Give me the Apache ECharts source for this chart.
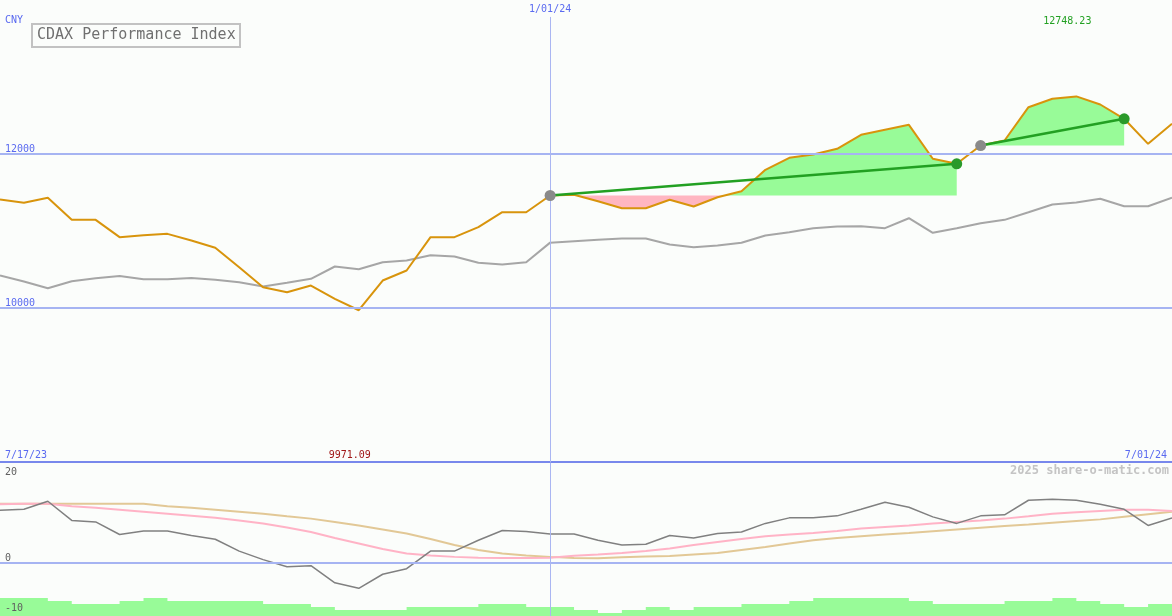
<!DOCTYPE html>
<html><head><meta charset="utf-8">
<script src="https://cdn.jsdelivr.net/npm/echarts@6/dist/echarts.min.js"></script>
<style>html,body{margin:0;padding:0;background:#fbfdfb}#c{width:1172px;height:616px}</style>
</head><body><div id="c"></div>
<script>
const dates = ['7/17/23','7/24/23','7/31/23','8/07/23','8/14/23','8/21/23','8/28/23','9/04/23','9/11/23','9/18/23',
  '9/25/23','10/02/23','10/09/23','10/16/23','10/23/23','10/30/23','11/06/23','11/13/23','11/20/23','11/27/23',
  '12/04/23','12/11/23','12/18/23','1/01/24','1/08/24','1/15/24','1/22/24','1/29/24','2/05/24','2/12/24',
  '2/19/24','2/26/24','3/04/24','3/11/24','3/18/24','3/25/24','4/01/24','4/08/24','4/15/24','4/22/24',
  '4/29/24','5/06/24','5/13/24','5/20/24','5/27/24','6/03/24','6/10/24','6/17/24','6/24/24','7/01/24'];
const cdax = [11409,11366,11431,11145,11145,10920,10945,10963,10877,10782,
  10530,10270,10205,10292,10119,9971.09,10357,10487,10920,10920,
  11050,11244,11244,11461,11470,11387,11296,11296,11405,11318,
  11439,11517,11795,11951,11994,12067,12249,12314,12379,11938,
  11873,12110,12175,12608,12717,12748.23,12643,12457,12132,12392];
const benchmark = [10422,10344,10257,10348,10387,10415,10372,10372,10390,10366,
  10335,10279,10327,10379,10539,10504,10595,10617,10686,10669,
  10587,10565,10595,10849,10868,10886,10903,10903,10825,10790,
  10812,10847,10942,10985,11037,11058,11062,11037,11166,10976,
  11037,11101,11145,11244,11344,11370,11418,11322,11322,11431];
const momentum = [10.5,10.7,12.3,8.5,8.2,5.7,6.4,6.4,5.5,4.75,
  2.4,0.7,-0.7,-0.5,-3.9,-5.0,-2.2,-1.1,2.4,2.4,
  4.55,6.5,6.3,5.8,5.8,4.55,3.6,3.76,5.5,5.0,
  5.9,6.2,7.9,9.0,9.0,9.4,10.7,12.1,11.1,9.2,
  7.9,9.4,9.6,12.5,12.7,12.5,11.7,10.7,7.5,9.0];
const avgFast = [11.7,11.8,11.8,11.3,11.0,10.6,10.2,9.8,9.4,9.0,
  8.5,7.9,7.1,6.2,5.0,3.9,2.8,1.9,1.5,1.25,
  1.1,1.05,1.05,1.1,1.45,1.7,2.0,2.4,2.9,3.6,
  4.2,4.8,5.35,5.7,6.0,6.4,6.9,7.2,7.5,7.9,
  8.2,8.5,8.85,9.3,9.8,10.1,10.35,10.6,10.6,10.35];
const avgSlow = [11.8,11.8,11.8,11.8,11.8,11.8,11.8,11.3,11.0,10.6,
  10.2,9.8,9.3,8.85,8.2,7.5,6.7,5.9,4.8,3.6,
  2.6,1.9,1.5,1.25,1.05,1.0,1.2,1.3,1.4,1.7,
  2.0,2.6,3.2,3.9,4.55,5.0,5.35,5.7,6.0,6.35,
  6.7,7.05,7.4,7.7,8.05,8.4,8.7,9.2,9.7,10.2];
const volumeLevels = [6,6,5,4,4,5,6,5,5,5,
  5,4,4,3,2,2,2,3,3,3,
  4,4,3,3,2,1,2,3,2,3,
  3,4,4,5,6,6,6,6,5,4,
  4,4,5,5,6,5,4,3,4];
const trendSegments = [[23,40],[41,47]];
const mainGridValues = [10000,12000];
const mainLabels = [10000,12000];
const lowerLabelsBelow = [0,-10];
const lowerLabelTop = 20;
const markerIndex = 23;

const MONO = 'DejaVu Sans Mono';
const BLUE_TXT = '#5a6af0';
const GRID_BLUE = '#a6b4f2';
const VLINE = '#aab6f2';

const pairs = arr => arr.map((v, i) => [i, v]);
const minVal = Math.min(...cdax), maxVal = Math.max(...cdax);
const minIdx = cdax.indexOf(minVal), maxIdx = cdax.indexOf(maxVal);

function fillParts(a, b) {
  const base = cdax[a];
  const pts = [];
  for (let i = a; i <= b; i++) {
    pts.push([i, cdax[i]]);
    if (i < b) {
      const d0 = cdax[i] - base, d1 = cdax[i + 1] - base;
      if (d0 * d1 < 0) { const t = d0 / (d0 - d1); pts.push([i + t, base]); }
    }
  }
  return {
    base,
    up: pts.map(p => [p[0], Math.max(p[1], base)]),
    down: pts.map(p => [p[0], Math.min(p[1], base)])
  };
}

const fillSeries = [];
trendSegments.forEach(([a, b]) => {
  const f = fillParts(a, b);
  fillSeries.push({
    type: 'line', xAxisIndex: 0, yAxisIndex: 0, data: f.up, symbol: 'none', z: 1,
    lineStyle: { width: 0 }, areaStyle: { color: '#98fb98', opacity: 1, origin: f.base }, silent: true
  });
  fillSeries.push({
    type: 'line', xAxisIndex: 0, yAxisIndex: 0, data: f.down, symbol: 'none', z: 1,
    lineStyle: { width: 0 }, areaStyle: { color: '#ffb6c1', opacity: 1, origin: f.base }, silent: true
  });
});

const trendSeries = trendSegments.map(([a, b]) => ({
  type: 'line', xAxisIndex: 0, yAxisIndex: 0, z: 5,
  data: [[a, cdax[a]], [b, cdax[b]]],
  symbol: 'circle', symbolSize: 11,
  lineStyle: { color: '#22a022', width: 2.5 },
  itemStyle: { color: p => p.dataIndex === 0 ? '#8a8a8a' : '#2a9a2a' }
}));

const volData = pairs(volumeLevels);
volData.push([volumeLevels.length, volumeLevels[volumeLevels.length - 1]]);

const hiddenX = gi => ({ type: 'value', gridIndex: gi, min: 0, max: dates.length - 1, show: false });
const labelAxisX = (pos, values, fmt, color, margin, pad) => ({
  type: 'value', gridIndex: 0, position: pos, offset: 0, min: 0, max: dates.length - 1,
  axisLine: { show: false }, axisTick: { show: false }, splitLine: { show: false },
  axisLabel: { inside: true, customValues: values, formatter: fmt, color: color, margin: margin,
    fontFamily: MONO, fontSize: 10, padding: pad || 0 }
});

const option = {
  backgroundColor: '#fbfdfb',
  animation: false,
  title: {
    text: 'CDAX Performance Index', left: 32, top: 24,
    borderColor: '#c2c2c2', borderWidth: 2, padding: [4, 5, 4, 5],
    textStyle: { color: '#707070', fontFamily: MONO, fontSize: 15, fontWeight: 'normal' }
  },
  graphic: [
    { type: 'text', left: 5, top: 15, style: { text: 'CNY', fill: BLUE_TXT, font: '10px ' + MONO } },
    { type: 'text', right: 3, top: 465, style: { text: '2025 share-o-matic.com', fill: '#c4c4c4', font: 'bold 12px ' + MONO } }
  ],
  grid: [
    { left: 0, right: 0, top: 0, height: 462 },
    { left: 0, right: 0, top: 462.5, height: 151 },
    { left: 0, right: 0, top: 466, height: 150 }
  ],
  xAxis: [
    {
      type: 'value', gridIndex: 0, position: 'bottom', offset: 0, min: 0, max: dates.length - 1,
      axisLine: { show: true, onZero: false, lineStyle: { color: '#7888ec', width: 2 } },
      axisTick: { show: false }, splitLine: { show: false },
      axisLabel: { inside: true, customValues: [0, dates.length - 1], formatter: v => dates[v],
        color: BLUE_TXT, margin: 2, fontFamily: MONO, fontSize: 10,
        alignMinLabel: 'left', alignMaxLabel: 'right', padding: [0, 5, 0, 5] }
    },
    labelAxisX('bottom', [minIdx], () => minVal.toFixed(2), '#a01818', 2, [0, 18, 0, 0]),
    labelAxisX('top', [markerIndex], v => dates[v], BLUE_TXT, 4),
    labelAxisX('top', [maxIdx], () => maxVal.toFixed(2), '#22a022', 16, [0, 18, 0, 0]),
    hiddenX(1),
    hiddenX(2)
  ],
  yAxis: [
    {
      type: 'value', gridIndex: 0, min: 8000, max: 14000, interval: 2000,
      axisLine: { show: false }, axisTick: { show: false }, splitLine: { show: false },
      axisLabel: { inside: true, margin: 5, verticalAlign: 'bottom', color: BLUE_TXT, fontFamily: MONO, fontSize: 10,
        formatter: v => mainLabels.includes(v) ? String(v) : '' }
    },
    {
      type: 'value', gridIndex: 1, min: -10, max: 20, interval: 10,
      axisLine: { show: false }, axisTick: { show: false }, splitLine: { show: false },
      axisLabel: { inside: true, margin: 5, verticalAlign: 'bottom', color: '#606060', fontFamily: MONO, fontSize: 10,
        formatter: v => lowerLabelsBelow.includes(v) ? String(v) : '' }
    },
    {
      type: 'value', gridIndex: 1, min: -10, max: 20, interval: 10, position: 'left', offset: 0,
      axisLine: { show: false }, axisTick: { show: false }, splitLine: { show: false },
      axisLabel: { inside: true, margin: 5, verticalAlign: 'top', color: '#606060', fontFamily: MONO, fontSize: 10,
        padding: [5, 0, 0, 0],
        formatter: v => v === lowerLabelTop ? String(v) : '' }
    },
    { type: 'value', gridIndex: 2, min: 0, max: 50, show: false }
  ],
  series: [
    {
      type: 'line', xAxisIndex: 5, yAxisIndex: 3, data: volData, step: 'end', symbol: 'none', z: 0,
      lineStyle: { width: 0 }, areaStyle: { color: '#98fb98', opacity: 1 },
      markLine: { silent: true, symbol: 'none', label: { show: false },
        lineStyle: { color: VLINE, width: 1, type: 'solid' }, data: [{ xAxis: markerIndex }] }
    },
    {
      type: 'line', xAxisIndex: 0, yAxisIndex: 0, data: pairs(benchmark), symbol: 'none', z: 2,
      lineStyle: { color: '#a6a6a6', width: 2 },
      markLine: { silent: true, symbol: 'none', label: { show: false }, animation: false,
        data: mainGridValues.map(v => ({ yAxis: v, lineStyle: { color: GRID_BLUE, width: 2, type: 'solid' } }))
          .concat([[{ coord: [markerIndex, 13780], lineStyle: { color: VLINE, width: 1, type: 'solid' } }, { coord: [markerIndex, 8000] }]]) }
    },
    ...fillSeries,
    {
      type: 'line', xAxisIndex: 0, yAxisIndex: 0, data: pairs(cdax), symbol: 'none', z: 3,
      lineStyle: { color: '#d8940c', width: 2 }
    },
    ...trendSeries,
    {
      type: 'line', xAxisIndex: 4, yAxisIndex: 1, data: pairs(avgSlow), symbol: 'none', z: 2,
      lineStyle: { color: '#e2c896', width: 2 },
      markLine: { silent: true, symbol: 'none', label: { show: false },
        data: [{ yAxis: 0, lineStyle: { color: GRID_BLUE, width: 2, type: 'solid' } },
               { xAxis: markerIndex, lineStyle: { color: VLINE, width: 1, type: 'solid' } }] }
    },
    {
      type: 'line', xAxisIndex: 4, yAxisIndex: 1, data: pairs(avgFast), symbol: 'none', z: 2,
      lineStyle: { color: '#ffb3c6', width: 2 }
    },
    {
      type: 'line', xAxisIndex: 4, yAxisIndex: 1, data: pairs(momentum), symbol: 'none', z: 3,
      lineStyle: { color: '#808080', width: 1.5 }
    }
  ]
};
const chart = echarts.init(document.getElementById('c'));
chart.setOption(option);
</script>
</body></html>
